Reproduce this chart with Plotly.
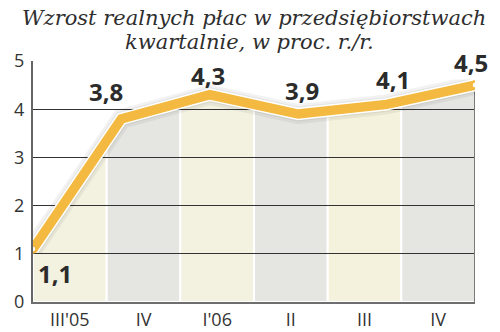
import numpy as np
import plotly.graph_objects as go

# ---- data ----
categories = ["III'05", "IV", "I'06", "II", "III", "IV"]
values = [1.1, 3.8, 4.3, 3.9, 4.1, 4.5]
value_labels = ["1,1", "3,8", "4,3", "3,9", "4,1", "4,5"]
y_ticks = [0, 1, 2, 3, 4, 5]
title_line1 = "Wzrost realnych płac w przedsiębiorstwach"
title_line2 = "kwartalnie, w proc. r./r."

# ---- styles ----
band_colors = ["#f3f1e0", "#e5e5e1", "#f3f1e0", "#e5e5e1", "#f4f2dc", "#e5e5e1"]
label_offsets = [(22, 25), (-15, -27), (-2, -19), (4, -24), (6, -25), (-4, -23)]  # px (dx, dy down)
line_color = "#f4b940"

n = len(categories)
xs = np.linspace(0, n, len(values))

fig = go.Figure()

# bands filled up to the line
shapes = []
for i in range(n):
    x0, x1 = i, i + 1
    pts = [(x0, float(np.interp(x0, xs, values)))]
    for xv, yv in zip(xs, values):
        if x0 < xv < x1:
            pts.append((float(xv), yv))
    pts.append((x1, float(np.interp(x1, xs, values))))
    path = f"M {x0},0 " + " ".join(f"L {px},{py}" for px, py in pts) + f" L {x1},0 Z"
    shapes.append(dict(type="path", path=path, xref="x", yref="y",
                       fillcolor=band_colors[i], line=dict(color="white", width=2),
                       layer="below"))

# right border
fig.add_trace(go.Scatter(x=[n, n], y=[0, values[-1] - 0.12], mode="lines",
                         line=dict(color="#7a7a7a", width=2), hoverinfo="skip"))
# shadow
fig.add_trace(go.Scatter(x=xs, y=values, mode="lines",
                         line=dict(color="rgba(0,0,0,0.05)", width=20), hoverinfo="skip"))
fig.add_trace(go.Scatter(x=xs, y=values, mode="lines",
                         line=dict(color="rgba(0,0,0,0.05)", width=15), hoverinfo="skip"))
# white edge
fig.add_trace(go.Scatter(x=xs, y=values, mode="lines",
                         line=dict(color="white", width=12.5), hoverinfo="skip"))
# main line
fig.add_trace(go.Scatter(x=xs, y=values, mode="lines",
                         line=dict(color=line_color, width=9.5), hoverinfo="skip"))
# end markers
fig.add_trace(go.Scatter(x=[xs[0], xs[-1]], y=[values[0], values[-1]], mode="markers",
                         marker=dict(color="white", size=7, line=dict(color=line_color, width=2.5)),
                         hoverinfo="skip"))

annotations = []
for xv, yv, lab, (dx, dy) in zip(xs, values, value_labels, label_offsets):
    annotations.append(dict(x=xv, y=yv, xref="x", yref="y", text=lab, showarrow=False,
                            xshift=dx, yshift=-dy,
                            font=dict(family="Open Sans", size=24, color="#2b2b2b", weight="bold"),
                            bgcolor="white" if lab == value_labels[-1] else None,
                            borderpad=0))

plot_top, plot_bottom = 61, 302
def py(ypx):
    return (plot_bottom - ypx) / (plot_bottom - plot_top)

title_font = dict(family="DejaVu Serif", size=21, color="#2e2e2e", style="italic")
annotations.append(dict(x=0.5, y=py(18), xref="paper", yref="paper", xanchor="center",
                        yanchor="middle", text=title_line1, showarrow=False, font=title_font))
annotations.append(dict(x=0.49, y=py(42), xref="paper", yref="paper", xanchor="center",
                        yanchor="middle", text=title_line2, showarrow=False, font=title_font))

fig.update_layout(
    width=500, height=332,
    margin=dict(l=33, r=25, t=61, b=30),
    paper_bgcolor="white", plot_bgcolor="white",
    showlegend=False,
    shapes=shapes,
    annotations=annotations,
    xaxis=dict(range=[0, n], tickvals=[i + 0.5 for i in range(n)], ticktext=categories,
               showgrid=False, zeroline=False, showline=True, linecolor="#6e6e6e", linewidth=2,
               ticks="", automargin=False,
               tickfont=dict(family="Open Sans", size=18, color="#333")),
    yaxis=dict(range=[0, 5], tickvals=y_ticks, showgrid=True, gridcolor="#333", gridwidth=1.3,
               zeroline=False, showline=True, linecolor="#666", linewidth=2,
               ticks="outside", ticklen=3, tickcolor="rgba(0,0,0,0)", automargin=False,
               tickfont=dict(family="Open Sans", size=18, color="#333")),
)

fig.write_html("out.html")
